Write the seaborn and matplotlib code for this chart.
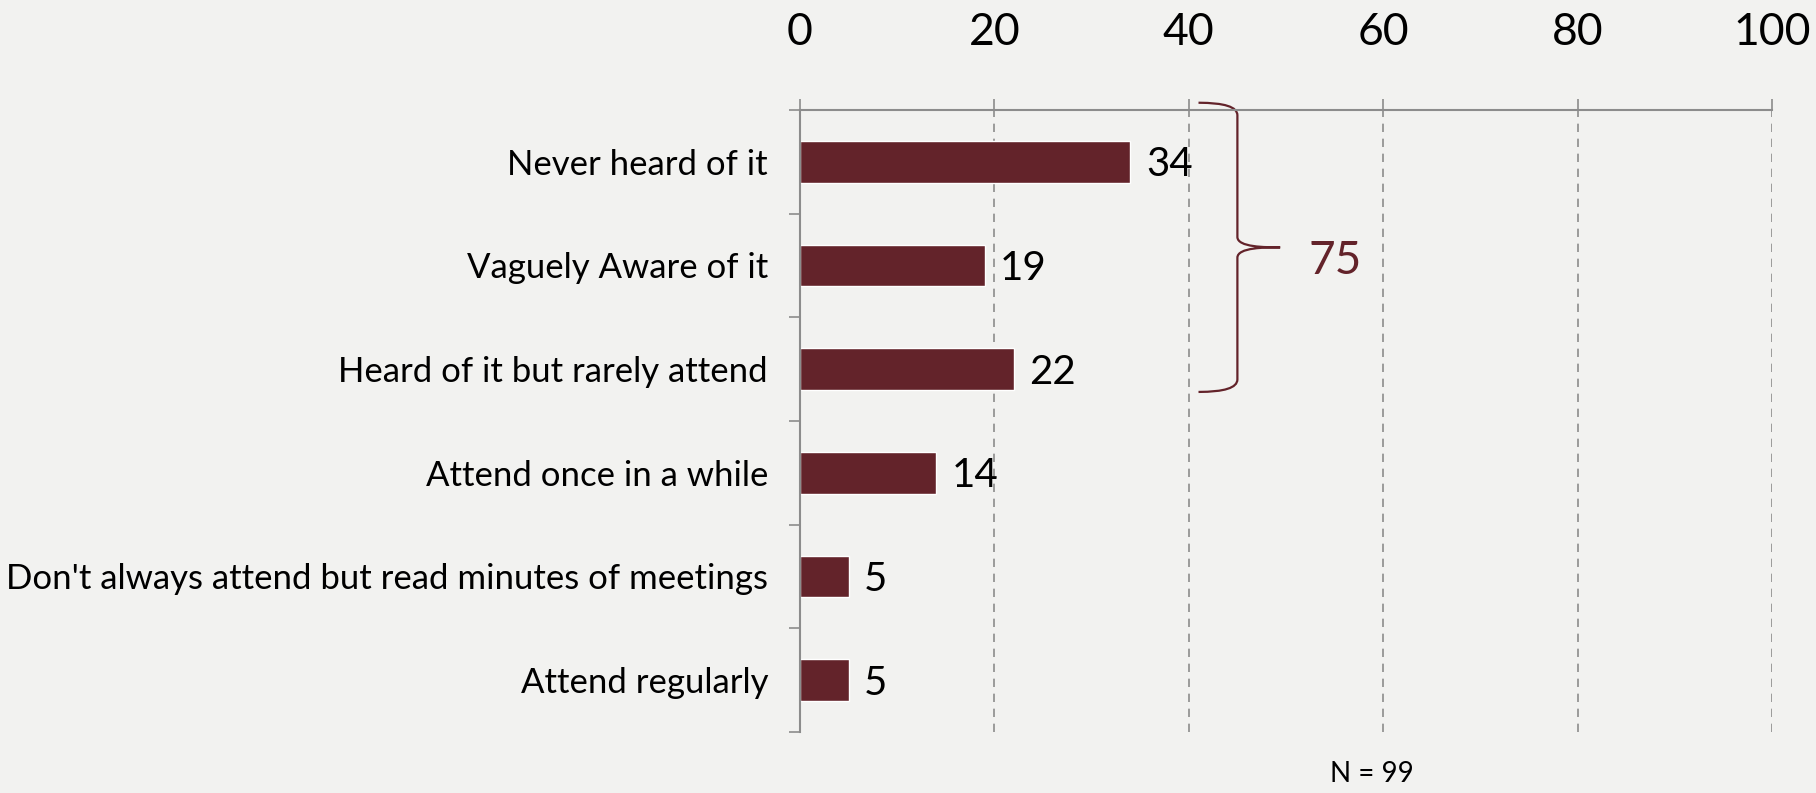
import numpy as np
import pandas as pd
import matplotlib
matplotlib.use('Agg')
import matplotlib.pyplot as plt
from matplotlib.path import Path
from matplotlib.patches import PathPatch
import seaborn as sns

# ========== 数据 ==========
categories = ['Never heard of it', 'Vaguely Aware of it', 'Heard of it but rarely attend',
              'Attend once in a while', "Don't always attend but read minutes of meetings",
              'Attend regularly']
values = [34, 19, 22, 14, 5, 5]
x_ticks = [0, 20, 40, 60, 80, 100]
brace_group = 3          # 前三项合计
n_label = 'N = 99'

bar_color = '#63232a'
axis_gray = '#8c8c8c'
bg_color = '#f2f2f0'

sns.set_theme(style='white')
plt.rcParams['font.family'] = ['Lato', 'DejaVu Sans']
plt.rcParams['text.color'] = 'black'
plt.rcParams['xtick.color'] = 'black'
plt.rcParams['ytick.color'] = 'black'

df = pd.DataFrame({'cat': categories, 'val': values})

fig = plt.figure(figsize=(18.16, 7.93), dpi=100)
fig.patch.set_facecolor(bg_color)
ax = fig.add_axes([0.4405, 0.077, 0.5353, 0.7843])
ax.set_facecolor('none')

sns.barplot(data=df, x='val', y='cat', orient='h', color=bar_color,
            width=0.4, saturation=1, ax=ax)

ax.set_xlim(0, 100)
ax.set_ylim(len(categories) - 0.5, -0.5)
ax.set_xticks(x_ticks)
ax.xaxis.tick_top()
ax.tick_params(axis='x', which='major', top=True, bottom=False, direction='out',
               length=8, width=1.2, color=axis_gray, labelcolor='black',
               labelsize=32, pad=33)
ax.set_xticklabels([str(t) for t in x_ticks])
ax.set_xlabel('')
ax.set_ylabel('')

# y轴：刻度在类别边界
ax.set_yticks(range(len(categories)))
ax.set_yticklabels(categories)
ax.tick_params(axis='y', which='major', length=0, labelsize=25, pad=23,
               labelcolor='black')
ax.set_yticks(np.arange(-0.5, len(categories), 1), minor=True)
ax.tick_params(axis='y', which='minor', left=True, direction='out', length=8,
               width=1.2, color=axis_gray)

for t in x_ticks[1:]:
    ax.axvline(t, color=axis_gray, linestyle=(0, (5, 4)), linewidth=1.2, zorder=0)

for side in ['right', 'bottom']:
    ax.spines[side].set_visible(False)
for side in ['top', 'left']:
    ax.spines[side].set_color(axis_gray)
    ax.spines[side].set_linewidth(1.5)

# 数值标签
for i, v in enumerate(values):
    ax.text(v + 1.6, i + 0.03, str(v), va='center', ha='left', fontsize=29, color='black')

# 大括号
total = sum(values[:brace_group])
y0, y1 = -0.57, brace_group - 0.78
ym = (y0 + y1) / 2
xa, xb, xc = 41.0, 45.0, 49.4
verts = [(xa, y0), (xb, y0), (xb, y0 + 0.12),
         (xb, ym - 0.1),
         (xb, ym), (xc - 1.5, ym), (xc, ym),
         (xc - 1.5, ym), (xb, ym), (xb, ym + 0.1),
         (xb, y1 - 0.12),
         (xb, y1), (xa, y1)]
codes = [Path.MOVETO, Path.CURVE3, Path.CURVE3,
         Path.LINETO,
         Path.CURVE4, Path.CURVE4, Path.CURVE4,
         Path.CURVE4, Path.CURVE4, Path.CURVE4,
         Path.LINETO,
         Path.CURVE3, Path.CURVE3]
brace = PathPatch(Path(verts, codes), facecolor='none', edgecolor=bar_color,
                  linewidth=1.6, clip_on=False)
ax.add_patch(brace)
ax.text(52.3, ym + 0.13, str(total), va='center', ha='left', fontsize=33,
        color=bar_color)

fig.text(0.7555, 0.024, n_label, ha='center', va='center', fontsize=20, color='black')

fig.savefig('out.png', dpi=100, facecolor=fig.get_facecolor())
